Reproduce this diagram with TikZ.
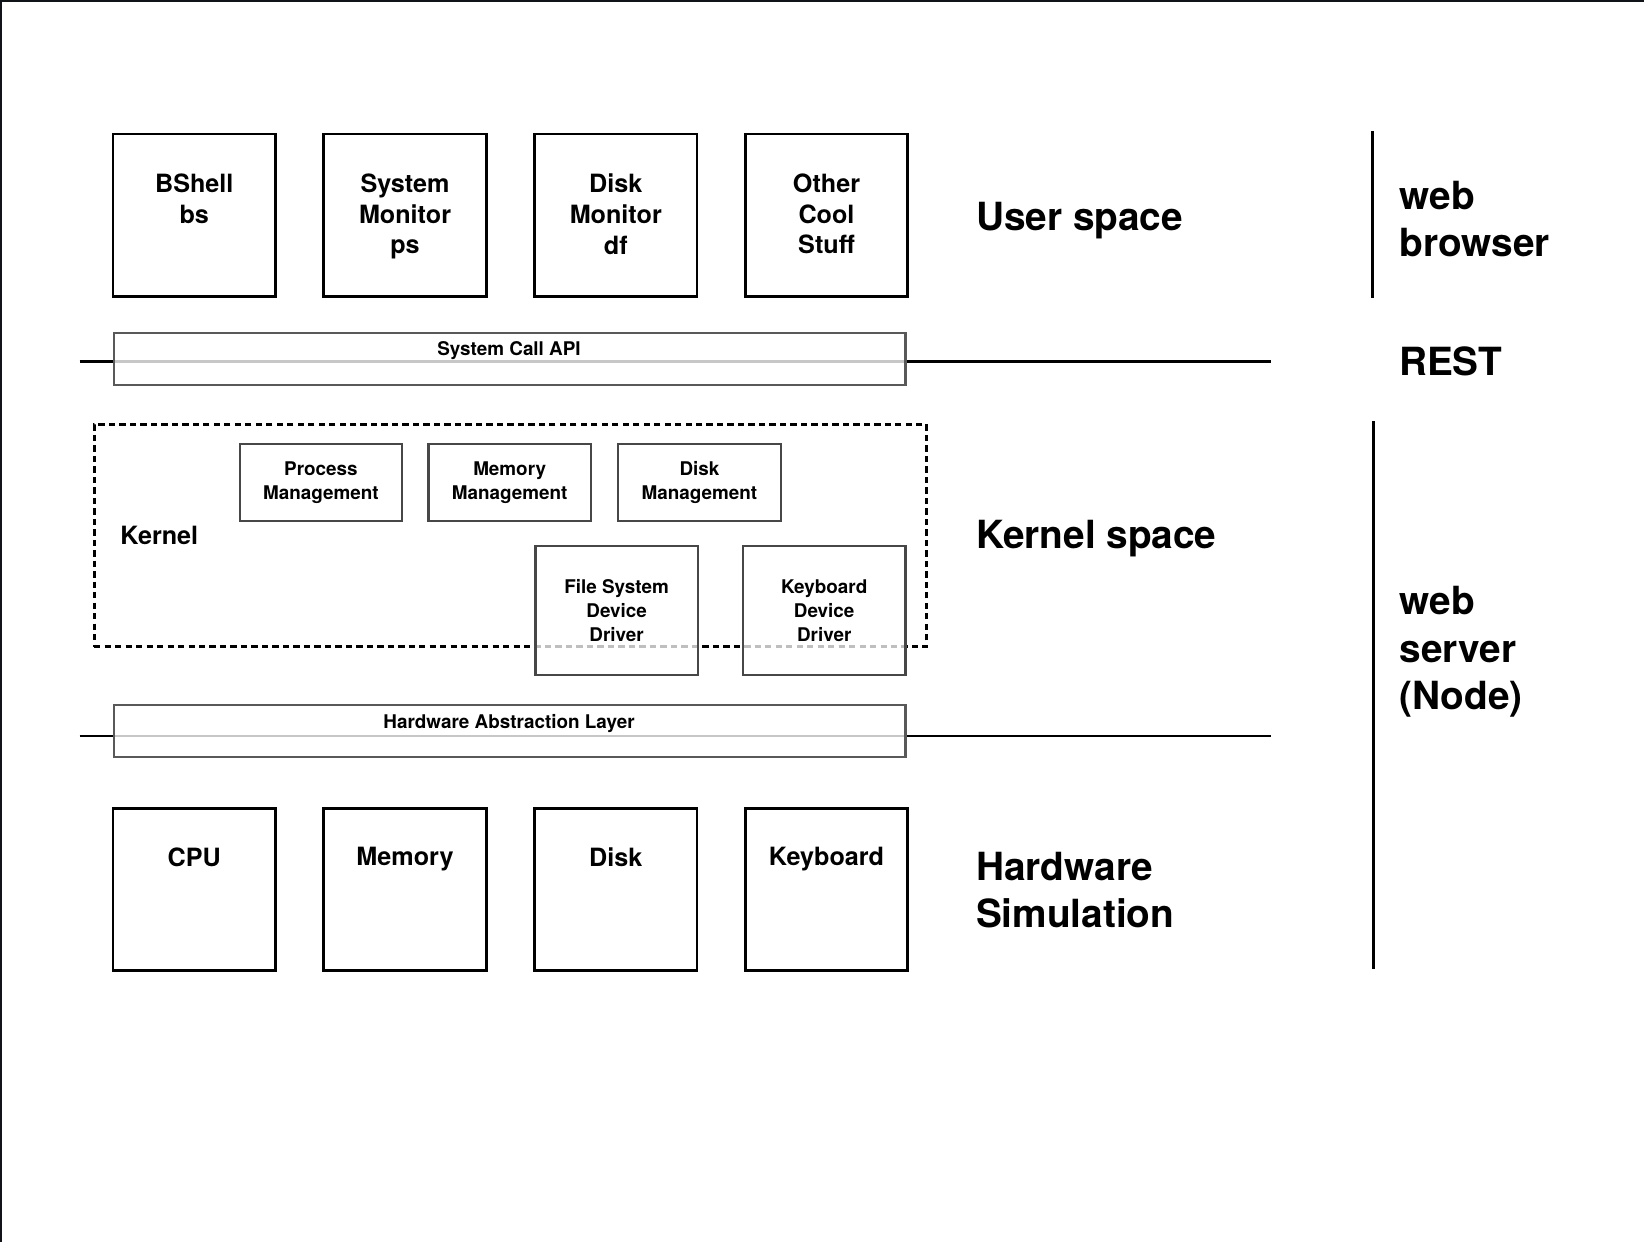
\documentclass[tikz,border=0pt]{standalone}
\usepackage{fontspec}
\setmainfont{TeX Gyre Heros}
\usetikzlibrary{positioning}
\definecolor{framegray}{HTML}{101418}
\colorlet{bandgray}{black!65}
\colorlet{modgray}{black!72}

\begin{document}
\begin{tikzpicture}[x=0.5pt,y=-0.5pt,
  appbox/.style={draw, line width=1.3pt, minimum width=77.5pt, minimum height=77.5pt, inner sep=0pt, anchor=north west},
  apptext/.style={font=\fontsize{12}{14.75}\selectfont\bfseries, align=center, inner sep=0pt},
  layerbox/.style={draw=bandgray, line width=1.1pt, fill=white, fill opacity=0.78, text opacity=1, minimum width=377.5pt, minimum height=24.75pt, inner sep=0pt, anchor=north west},
  layertext/.style={font=\fontsize{9}{11}\selectfont\bfseries, inner sep=0pt, anchor=base},
  modbox/.style={draw=modgray, line width=1.1pt, fill=white, fill opacity=0.75, text opacity=1, minimum width=77.5pt, inner sep=0pt, anchor=north west, align=center, font=\fontsize{9}{11.5}\selectfont\bfseries},
  spacetext/.style={font=\fontsize{18.5}{22.6}\selectfont\bfseries, align=left, inner sep=0pt},
  divider/.style={line width=1.2pt},
  kernelframe/.style={draw, line width=1.3pt, dash pattern=on 3pt off 2pt, minimum width=397pt, minimum height=106pt, inner sep=0pt, anchor=north west}
]
\fill[white] (0,0) rectangle (1568,1185);
\useasboundingbox (0,0) rectangle (1568,1185);
\draw[framegray, line width=1pt] (0,1) -- (1568,1);
\draw[framegray, line width=1pt] (1,0) -- (1,1185);

% user space
\node[appbox] (bshell) at (106.5,126.5) {};
\node[appbox] (sysmon) at (307.5,126.5) {};
\node[appbox] (diskmon) at (508.5,126.5) {};
\node[appbox] (other) at (709.5,126.5) {};
\node[apptext, below=19.25pt of bshell.north] (bshell-txt) {BShell\\bs};
\node[apptext, below=19.25pt of sysmon.north] (sysmon-txt) {System\\Monitor\\ps};
\node[apptext, below=19.25pt of diskmon.north] (diskmon-txt) {Disk\\Monitor\\df};
\node[apptext, below=19.25pt of other.north] (other-txt) {Other\\Cool\\Stuff};

% system call layer
\coordinate (api-w) at (76,345);
\coordinate (api-e) at (1212,345);
\draw[divider] (api-w) -- (api-e);
\node[layerbox] (api) at (107.5,316.5) {};
\node[layertext] (api-txt) at (485.5,338.6) {System Call API};

% kernel
\node[kernelframe] (kernel) at (88.5,403.5) {};
\node[font=\fontsize{12}{14}\selectfont\bfseries, anchor=base west, inner sep=0pt] (kernel-txt) at (114.5,519.5) {Kernel};
\node[modbox, minimum height=36.5pt] (procmgmt) at (227.5,422.5) {Process\\Management};
\node[modbox, minimum height=36.5pt] (memmgmt) at (407.5,422.5) {Memory\\Management};
\node[modbox, minimum height=36.5pt] (diskmgmt) at (588.5,422.5) {Disk\\Management};
\node[modbox, minimum height=61.5pt] (fsdrv) at (509.5,519.5) {File System\\Device\\Driver};
\node[modbox, minimum height=61.5pt] (kbddrv) at (707.5,519.5) {Keyboard\\Device\\Driver};

% hardware abstraction layer
\coordinate (hal-w) at (76,702);
\coordinate (hal-e) at (1212,702);
\draw[divider] (hal-w) -- (hal-e);
\node[layerbox] (hal) at (107.5,671.5) {};
\node[layertext] (hal-txt) at (485.5,694.6) {Hardware Abstraction Layer};

% hardware
\node[appbox] (cpu) at (106.5,769.5) {};
\node[appbox] (mem) at (307.5,769.5) {};
\node[appbox] (disk) at (508.5,769.5) {};
\node[appbox] (kbd) at (709.5,769.5) {};
\node[apptext, below=19.25pt of cpu.north] (cpu-txt) {CPU};
\node[apptext, below=19.25pt of mem.north] (mem-txt) {Memory};
\node[apptext, below=19.25pt of disk.north] (disk-txt) {Disk};
\node[apptext, below=19.25pt of kbd.north] (kbd-txt) {Keyboard};

% space names
\node[spacetext, anchor=base west] (user) at (930.5,219.8) {User space};
\node[spacetext, anchor=base west] (kspace) at (930.5,523) {Kernel space};
\node[spacetext, anchor=north west] (hwsim) at (930.5,812) {Hardware\\Simulation};

% web side
\coordinate (browser-n) at (1309,125);
\coordinate (browser-s) at (1309,284);
\draw[divider] (browser-n) -- (browser-s);
\node[spacetext, anchor=north west] (browser) at (1334.5,172) {web\\browser};
\node[spacetext, anchor=base west] (rest) at (1334,358) {REST};
\coordinate (server-n) at (1310,402);
\coordinate (server-s) at (1310,924);
\draw[divider] (server-n) -- (server-s);
\node[spacetext, anchor=north west] (server) at (1334.5,559) {web\\server\\(Node)};
\end{tikzpicture}
\end{document}
